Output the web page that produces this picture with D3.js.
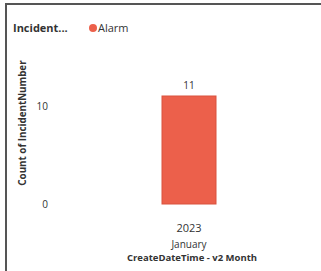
<!DOCTYPE html>
<html><head><meta charset="utf-8">
<script src="https://cdn.jsdelivr.net/npm/d3@7"></script>
<style>body{margin:0;background:#fff}svg{display:block}text{font-family:"Open Sans",sans-serif}</style>
</head><body><svg id="c" width="321" height="271"></svg>
<script>
const categories = ["2023|January"];
const values = [11];
const seriesName = "Alarm";
const legendTitle = "Incident...";
const yTicks = [0, 10];
const yTitle = "Count of IncidentNumber";
const xTitle = "CreateDateTime - v2 Month";

const svg = d3.select("#c");
const color = "#EC604B";
// border
svg.append("line").attr("x1",6).attr("x2",6).attr("y1",3).attr("y2",271).attr("stroke","#555").attr("stroke-width",2);
svg.append("line").attr("x1",5).attr("x2",321).attr("y1",4).attr("y2",4).attr("stroke","#555").attr("stroke-width",2);

// legend
svg.append("text").attr("x",13).attr("y",32).attr("font-size",11).attr("font-weight","bold").attr("fill","#333").text(legendTitle);
svg.append("circle").attr("cx",93).attr("cy",28).attr("r",4).attr("fill",color);
svg.append("text").attr("x",98).attr("y",32).attr("font-size",11).attr("fill","#333").text(seriesName);

const y = d3.scaleLinear().domain([0,11]).range([204,96]);
const x = d3.scaleBand().domain(categories).range([135,243]).paddingInner(0.5).paddingOuter(0.25);

const ya = svg.append("g").attr("transform","translate(48,0)")
  .call(d3.axisLeft(y).tickValues(yTicks).tickSize(0).tickPadding(0));
ya.select(".domain").remove();
ya.selectAll("text").attr("font-size",10).attr("fill","#333").attr("font-family","'Open Sans',sans-serif");

svg.append("text").attr("transform","translate(26,123) rotate(-90)").attr("text-anchor","middle")
  .attr("font-size",9.8).attr("font-weight","bold").attr("fill","#333").text(yTitle);

svg.selectAll("rect.bar").data(values).join("rect").attr("class","bar")
  .attr("x",(d,i)=>x(categories[i])).attr("width",x.bandwidth())
  .attr("y",d=>y(d)).attr("height",d=>y(0)-y(d)).attr("fill",color).attr("stroke","#D9523F").attr("stroke-width",1);

svg.selectAll("text.lbl").data(values).join("text").attr("class","lbl")
  .attr("x",(d,i)=>x(categories[i])+x.bandwidth()/2).attr("y",d=>y(d)-7)
  .attr("text-anchor","middle").attr("font-size",10).attr("fill","#333").text(d=>d);

const xa = svg.append("g").attr("transform","translate(0,204)")
  .call(d3.axisBottom(x).tickSize(0).tickPadding(0).tickFormat(()=>""));
xa.select(".domain").remove();
xa.selectAll(".tick").each(function(d){
  const parts = d.split("|");
  const g = d3.select(this);
  g.append("text").attr("y",28).attr("text-anchor","middle").attr("font-size",11).attr("fill","#333").text(parts[0]);
  g.append("text").attr("y",44).attr("text-anchor","middle").attr("font-size",10).attr("fill","#333").text(parts[1]);
});
svg.append("text").attr("x",192).attr("y",261).attr("text-anchor","middle").attr("font-size",9.5).attr("font-weight","bold").attr("fill","#333").text(xTitle);
</script></body></html>
